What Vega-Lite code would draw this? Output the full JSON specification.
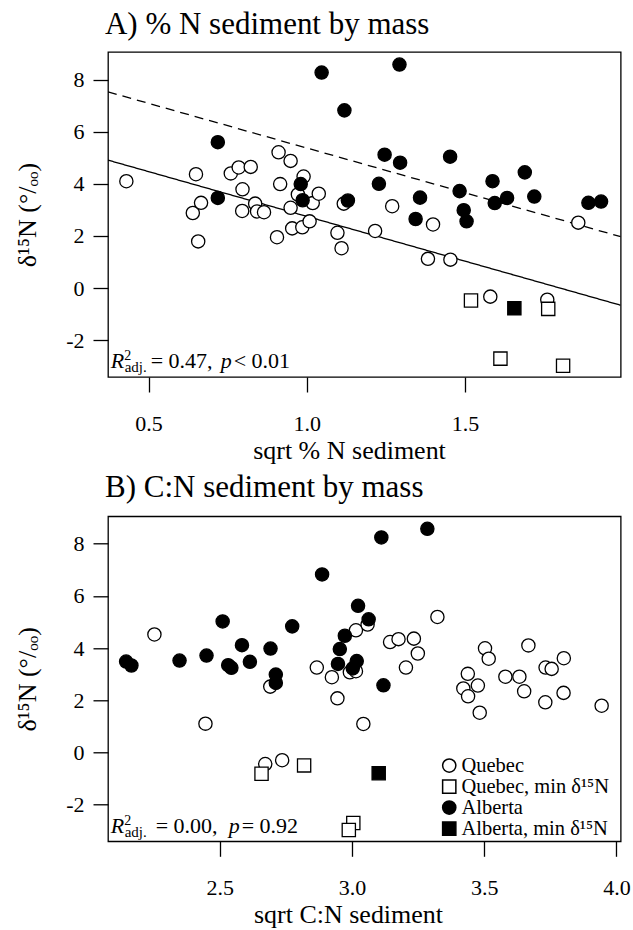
{
  "$schema": "https://vega.github.io/schema/vega-lite/v6.json",
  "background": "white",
  "padding": {"left": 14, "top": 8, "right": 5, "bottom": 5},
  "bounds": "flush",
  "spacing": 139.3,
  "config": {
    "font": "Liberation Serif",
    "view": {"stroke": "black", "strokeWidth": 1.3},
    "axis": {"domain": false, "grid": false, "tickColor": "black", "tickWidth": 1.3, "tickSize": 15, "labelColor": "black", "labelFont": "Liberation Serif", "labelFontSize": 22, "titleColor": "black", "titleFont": "Liberation Serif", "titleFontSize": 26, "titleFontWeight": "normal"},
    "axisX": {"labelPadding": 21, "titlePadding": 3},
    "axisY": {"labelPadding": 9, "titlePadding": 25},
    "text": {"font": "Liberation Serif", "color": "black"},
    "legend": {"labelFont": "Liberation Serif"},
    "title": {"font": "Liberation Serif", "fontSize": 31, "fontWeight": "normal", "color": "black", "anchor": "start", "frame": "group", "baseline": "alphabetic", "dx": -3}
  },
  "resolve": {"scale": {"shape": "independent", "fill": "independent"}},
  "datasets": {
    "panelA": [
      {"group": "Quebec", "x": 0.43, "d15N": 4.10},
      {"group": "Quebec", "x": 0.65, "d15N": 4.37},
      {"group": "Quebec", "x": 0.64, "d15N": 2.88},
      {"group": "Quebec", "x": 0.666, "d15N": 3.27},
      {"group": "Quebec", "x": 0.657, "d15N": 1.79},
      {"group": "Quebec", "x": 0.76, "d15N": 4.40},
      {"group": "Quebec", "x": 0.785, "d15N": 4.63},
      {"group": "Quebec", "x": 0.823, "d15N": 4.65},
      {"group": "Quebec", "x": 0.797, "d15N": 3.79},
      {"group": "Quebec", "x": 0.796, "d15N": 2.96},
      {"group": "Quebec", "x": 0.837, "d15N": 3.24},
      {"group": "Quebec", "x": 0.843, "d15N": 2.94},
      {"group": "Quebec", "x": 0.865, "d15N": 2.91},
      {"group": "Quebec", "x": 0.911, "d15N": 5.21},
      {"group": "Quebec", "x": 0.949, "d15N": 4.88},
      {"group": "Quebec", "x": 0.916, "d15N": 3.99},
      {"group": "Quebec", "x": 0.99, "d15N": 4.28},
      {"group": "Quebec", "x": 0.949, "d15N": 3.08},
      {"group": "Quebec", "x": 0.972, "d15N": 3.59},
      {"group": "Quebec", "x": 0.906, "d15N": 1.95},
      {"group": "Quebec", "x": 0.954, "d15N": 2.29},
      {"group": "Quebec", "x": 0.986, "d15N": 2.33},
      {"group": "Quebec", "x": 1.009, "d15N": 2.56},
      {"group": "Quebec", "x": 1.019, "d15N": 3.26},
      {"group": "Quebec", "x": 1.038, "d15N": 3.62},
      {"group": "Quebec", "x": 1.097, "d15N": 2.12},
      {"group": "Quebec", "x": 1.11, "d15N": 1.53},
      {"group": "Quebec", "x": 1.117, "d15N": 3.24},
      {"group": "Quebec", "x": 1.216, "d15N": 2.19},
      {"group": "Quebec", "x": 1.27, "d15N": 3.14},
      {"group": "Quebec", "x": 1.383, "d15N": 1.12},
      {"group": "Quebec", "x": 1.399, "d15N": 2.44},
      {"group": "Quebec", "x": 1.454, "d15N": 1.09},
      {"group": "Quebec", "x": 1.58, "d15N": -0.33},
      {"group": "Quebec", "x": 1.76, "d15N": -0.45},
      {"group": "Quebec", "x": 1.858, "d15N": 2.51},
      {"group": "Quebec, min δ¹⁵N", "x": 1.519, "d15N": -0.48},
      {"group": "Quebec, min δ¹⁵N", "x": 1.763, "d15N": -0.80},
      {"group": "Quebec, min δ¹⁵N", "x": 1.612, "d15N": -2.71},
      {"group": "Quebec, min δ¹⁵N", "x": 1.81, "d15N": -2.98},
      {"group": "Alberta", "x": 0.719, "d15N": 5.60},
      {"group": "Alberta", "x": 0.719, "d15N": 3.46},
      {"group": "Alberta", "x": 0.981, "d15N": 3.99},
      {"group": "Alberta", "x": 0.987, "d15N": 3.37},
      {"group": "Alberta", "x": 1.047, "d15N": 8.27},
      {"group": "Alberta", "x": 1.119, "d15N": 6.82},
      {"group": "Alberta", "x": 1.13, "d15N": 3.36},
      {"group": "Alberta", "x": 1.228, "d15N": 4.0},
      {"group": "Alberta", "x": 1.246, "d15N": 5.12},
      {"group": "Alberta", "x": 1.295, "d15N": 4.81},
      {"group": "Alberta", "x": 1.293, "d15N": 8.58},
      {"group": "Alberta", "x": 1.344, "d15N": 2.65},
      {"group": "Alberta", "x": 1.358, "d15N": 3.47},
      {"group": "Alberta", "x": 1.453, "d15N": 5.04},
      {"group": "Alberta", "x": 1.483, "d15N": 3.72},
      {"group": "Alberta", "x": 1.496, "d15N": 2.99},
      {"group": "Alberta", "x": 1.505, "d15N": 2.56},
      {"group": "Alberta", "x": 1.587, "d15N": 4.10},
      {"group": "Alberta", "x": 1.594, "d15N": 3.26},
      {"group": "Alberta", "x": 1.633, "d15N": 3.46},
      {"group": "Alberta", "x": 1.689, "d15N": 4.44},
      {"group": "Alberta", "x": 1.719, "d15N": 3.51},
      {"group": "Alberta", "x": 1.89, "d15N": 3.27},
      {"group": "Alberta", "x": 1.93, "d15N": 3.32},
      {"group": "Alberta, min δ¹⁵N", "x": 1.656, "d15N": -0.78}
    ],
    "fitA": [
      {"region": "Quebec", "x": 0.372, "y": 4.91},
      {"region": "Quebec", "x": 1.992, "y": -0.66},
      {"region": "Alberta", "x": 0.372, "y": 7.53},
      {"region": "Alberta", "x": 1.992, "y": 1.97}
    ],
    "panelB": [
      {"group": "Quebec", "x": 2.253, "d15N": 4.52},
      {"group": "Quebec", "x": 2.446, "d15N": 1.10},
      {"group": "Quebec", "x": 2.691, "d15N": 2.52},
      {"group": "Quebec", "x": 2.672, "d15N": -0.45},
      {"group": "Quebec", "x": 2.736, "d15N": -0.30},
      {"group": "Quebec", "x": 2.867, "d15N": 3.25},
      {"group": "Quebec", "x": 2.924, "d15N": 2.88},
      {"group": "Quebec", "x": 2.945, "d15N": 2.07},
      {"group": "Quebec", "x": 2.992, "d15N": 3.07},
      {"group": "Quebec", "x": 3.015, "d15N": 3.11},
      {"group": "Quebec", "x": 3.015, "d15N": 4.68},
      {"group": "Quebec", "x": 3.059, "d15N": 4.90},
      {"group": "Quebec", "x": 3.043, "d15N": 1.09},
      {"group": "Quebec", "x": 3.144, "d15N": 4.23},
      {"group": "Quebec", "x": 3.176, "d15N": 4.34},
      {"group": "Quebec", "x": 3.234, "d15N": 4.36},
      {"group": "Quebec", "x": 3.249, "d15N": 3.79},
      {"group": "Quebec", "x": 3.204, "d15N": 3.25},
      {"group": "Quebec", "x": 3.323, "d15N": 5.19},
      {"group": "Quebec", "x": 3.421, "d15N": 2.45},
      {"group": "Quebec", "x": 3.438, "d15N": 3.01},
      {"group": "Quebec", "x": 3.439, "d15N": 2.15},
      {"group": "Quebec", "x": 3.476, "d15N": 2.56},
      {"group": "Quebec", "x": 3.483, "d15N": 1.52},
      {"group": "Quebec", "x": 3.503, "d15N": 3.99},
      {"group": "Quebec", "x": 3.517, "d15N": 3.59},
      {"group": "Quebec", "x": 3.58, "d15N": 2.90},
      {"group": "Quebec", "x": 3.633, "d15N": 2.90},
      {"group": "Quebec", "x": 3.651, "d15N": 2.34},
      {"group": "Quebec", "x": 3.667, "d15N": 4.10},
      {"group": "Quebec", "x": 3.732, "d15N": 3.25},
      {"group": "Quebec", "x": 3.755, "d15N": 3.20},
      {"group": "Quebec", "x": 3.731, "d15N": 1.92},
      {"group": "Quebec", "x": 3.801, "d15N": 3.61},
      {"group": "Quebec", "x": 3.80, "d15N": 2.28},
      {"group": "Quebec", "x": 3.944, "d15N": 1.79},
      {"group": "Quebec, min δ¹⁵N", "x": 2.658, "d15N": -0.82},
      {"group": "Quebec, min δ¹⁵N", "x": 2.819, "d15N": -0.50},
      {"group": "Quebec, min δ¹⁵N", "x": 3.005, "d15N": -2.71},
      {"group": "Quebec, min δ¹⁵N", "x": 2.988, "d15N": -2.98},
      {"group": "Alberta", "x": 2.146, "d15N": 3.48},
      {"group": "Alberta", "x": 2.166, "d15N": 3.33},
      {"group": "Alberta", "x": 2.348, "d15N": 3.52},
      {"group": "Alberta", "x": 2.450, "d15N": 3.71},
      {"group": "Alberta", "x": 2.511, "d15N": 5.02},
      {"group": "Alberta", "x": 2.532, "d15N": 3.34},
      {"group": "Alberta", "x": 2.544, "d15N": 3.24},
      {"group": "Alberta", "x": 2.584, "d15N": 4.11},
      {"group": "Alberta", "x": 2.614, "d15N": 3.47},
      {"group": "Alberta", "x": 2.692, "d15N": 3.98},
      {"group": "Alberta", "x": 2.712, "d15N": 2.98},
      {"group": "Alberta", "x": 2.712, "d15N": 2.66},
      {"group": "Alberta", "x": 2.774, "d15N": 4.83},
      {"group": "Alberta", "x": 2.887, "d15N": 6.82},
      {"group": "Alberta", "x": 2.947, "d15N": 3.39},
      {"group": "Alberta", "x": 2.954, "d15N": 3.96},
      {"group": "Alberta", "x": 2.973, "d15N": 4.47},
      {"group": "Alberta", "x": 3.023, "d15N": 5.62},
      {"group": "Alberta", "x": 3.018, "d15N": 3.50},
      {"group": "Alberta", "x": 3.003, "d15N": 3.22},
      {"group": "Alberta", "x": 3.063, "d15N": 5.10},
      {"group": "Alberta", "x": 3.111, "d15N": 8.24},
      {"group": "Alberta", "x": 3.119, "d15N": 2.57},
      {"group": "Alberta", "x": 3.285, "d15N": 8.57},
      {"group": "Alberta, min δ¹⁵N", "x": 3.101, "d15N": -0.80}
    ]
  },
  "vconcat": [
    {
      "title": {"text": "A) % N sediment by mass", "offset": 11},
      "width": 512.7,
      "height": 325,
      "layer": [
        {
          "data": {"name": "fitA"},
          "mark": {"type": "line", "stroke": "black", "strokeWidth": 1.3, "clip": true},
          "encoding": {
            "x": {"field": "x", "type": "quantitative", "scale": {"domain": [0.372, 1.992], "nice": false, "zero": false}, "axis": {"values": [0.5, 1.0, 1.5], "format": ".1f", "title": "sqrt % N sediment", "titleX": 241}},
            "y": {"field": "y", "type": "quantitative", "scale": {"domain": [-3.415, 9.06], "nice": false, "zero": false}, "axis": {"values": [-2, 0, 2, 4, 6, 8], "labelExpr": "toString(datum.value)", "title": "δ¹⁵N (°/ₒₒ)"}},
            "strokeDash": {"field": "region", "type": "nominal", "scale": {"domain": ["Quebec", "Alberta"], "range": [[1, 0], [9, 6]]}, "legend": null}
          }
        },
        {
          "data": {"name": "panelA"},
          "mark": {"type": "point", "filled": true, "stroke": "black", "strokeWidth": 1.3, "size": 175, "opacity": 1},
          "encoding": {
            "x": {"field": "x", "type": "quantitative"},
            "y": {"field": "d15N", "type": "quantitative"},
            "shape": {"field": "group", "type": "nominal", "scale": {"domain": ["Quebec", "Quebec, min δ¹⁵N", "Alberta", "Alberta, min δ¹⁵N"], "range": ["circle", "square", "circle", "square"]}, "legend": null},
            "fill": {"field": "group", "type": "nominal", "scale": {"domain": ["Quebec", "Quebec, min δ¹⁵N", "Alberta", "Alberta, min δ¹⁵N"], "range": ["white", "white", "black", "black"]}, "legend": null}
          }
        },
        {"data": {"values": [{}]}, "mark": {"type": "text", "text": "R", "fontStyle": "italic", "fontSize": 22, "align": "left", "baseline": "alphabetic"}, "encoding": {"x": {"datum": 0.3805}, "y": {"datum": -3.08}}},
        {"data": {"values": [{}]}, "mark": {"type": "text", "text": "2", "fontSize": 14, "align": "left", "baseline": "alphabetic", "dx": 13.5, "dy": -8}, "encoding": {"x": {"datum": 0.3805}, "y": {"datum": -3.08}}},
        {"data": {"values": [{}]}, "mark": {"type": "text", "text": "adj.", "fontSize": 15, "align": "left", "baseline": "alphabetic", "dx": 14, "dy": 4}, "encoding": {"x": {"datum": 0.3805}, "y": {"datum": -3.08}}},
        {"data": {"values": [{}]}, "mark": {"type": "text", "text": "= 0.47,", "fontSize": 22, "align": "left", "baseline": "alphabetic", "dx": 40}, "encoding": {"x": {"datum": 0.3805}, "y": {"datum": -3.08}}},
        {"data": {"values": [{}]}, "mark": {"type": "text", "text": "p", "fontStyle": "italic", "fontSize": 22, "align": "left", "baseline": "alphabetic", "dx": 110}, "encoding": {"x": {"datum": 0.3805}, "y": {"datum": -3.08}}},
        {"data": {"values": [{}]}, "mark": {"type": "text", "text": "< 0.01", "fontSize": 22, "align": "left", "baseline": "alphabetic", "dx": 123}, "encoding": {"x": {"datum": 0.3805}, "y": {"datum": -3.08}}}
      ]
    },
    {
      "title": {"text": "B) C:N sediment by mass", "offset": 12},
      "width": 512.7,
      "height": 325,
      "layer": [
        {
          "data": {"name": "panelB"},
          "mark": {"type": "point", "filled": true, "stroke": "black", "strokeWidth": 1.3, "size": 175, "opacity": 1},
          "encoding": {
            "x": {"field": "x", "type": "quantitative", "scale": {"domain": [2.0775, 4.016], "nice": false, "zero": false}, "axis": {"values": [2.5, 3.0, 3.5, 4.0], "format": ".1f", "title": "sqrt C:N sediment", "titleX": 240}},
            "y": {"field": "d15N", "type": "quantitative", "scale": {"domain": [-3.41, 9.05], "nice": false, "zero": false}, "axis": {"values": [-2, 0, 2, 4, 6, 8], "labelExpr": "toString(datum.value)", "title": "δ¹⁵N (°/ₒₒ)"}},
            "shape": {"field": "group", "type": "nominal", "scale": {"domain": ["Quebec", "Quebec, min δ¹⁵N", "Alberta", "Alberta, min δ¹⁵N"], "range": ["circle", "square", "circle", "square"]}, "legend": {"orient": "none", "legendX": 331, "legendY": 239, "title": null, "labelFontSize": 20.5, "labelColor": "black", "symbolSize": 175, "rowPadding": 0, "labelOffset": 2, "padding": 0, "encode": {"symbols": {"update": {"stroke": {"value": "black"}, "strokeWidth": {"value": 1.3}, "opacity": {"value": 1}}}}}},
            "fill": {"field": "group", "type": "nominal", "scale": {"domain": ["Quebec", "Quebec, min δ¹⁵N", "Alberta", "Alberta, min δ¹⁵N"], "range": ["white", "white", "black", "black"]}, "legend": {"orient": "none", "legendX": 331, "legendY": 239, "title": null, "labelFontSize": 20.5, "labelColor": "black", "symbolSize": 175, "rowPadding": 0, "labelOffset": 2, "padding": 0, "encode": {"symbols": {"update": {"stroke": {"value": "black"}, "strokeWidth": {"value": 1.3}, "opacity": {"value": 1}}}}}}
          }
        },
        {"data": {"values": [{}]}, "mark": {"type": "text", "text": "R", "fontStyle": "italic", "fontSize": 22, "align": "left", "baseline": "alphabetic"}, "encoding": {"x": {"datum": 2.0877}, "y": {"datum": -3.08}}},
        {"data": {"values": [{}]}, "mark": {"type": "text", "text": "2", "fontSize": 14, "align": "left", "baseline": "alphabetic", "dx": 13.5, "dy": -8}, "encoding": {"x": {"datum": 2.0877}, "y": {"datum": -3.08}}},
        {"data": {"values": [{}]}, "mark": {"type": "text", "text": "adj.", "fontSize": 15, "align": "left", "baseline": "alphabetic", "dx": 14, "dy": 4}, "encoding": {"x": {"datum": 2.0877}, "y": {"datum": -3.08}}},
        {"data": {"values": [{}]}, "mark": {"type": "text", "text": "= 0.00,", "fontSize": 22, "align": "left", "baseline": "alphabetic", "dx": 45}, "encoding": {"x": {"datum": 2.0877}, "y": {"datum": -3.08}}},
        {"data": {"values": [{}]}, "mark": {"type": "text", "text": "p", "fontStyle": "italic", "fontSize": 22, "align": "left", "baseline": "alphabetic", "dx": 118}, "encoding": {"x": {"datum": 2.0877}, "y": {"datum": -3.08}}},
        {"data": {"values": [{}]}, "mark": {"type": "text", "text": "= 0.92", "fontSize": 22, "align": "left", "baseline": "alphabetic", "dx": 131}, "encoding": {"x": {"datum": 2.0877}, "y": {"datum": -3.08}}}
      ]
    }
  ]
}
